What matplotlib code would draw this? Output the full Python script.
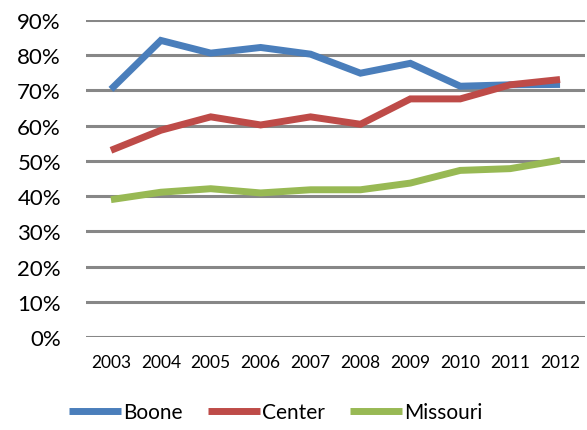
import matplotlib
matplotlib.use("Agg")
import matplotlib.pyplot as plt
from matplotlib.ticker import FuncFormatter

years = ["2003", "2004", "2005", "2006", "2007", "2008", "2009", "2010", "2011", "2012"]
boone = [70.3, 84.2, 80.6, 82.2, 80.3, 74.9, 77.7, 71.2, 71.6, 71.7]
center = [53.0, 58.7, 62.5, 60.2, 62.5, 60.4, 67.6, 67.6, 71.6, 73.1]
missouri = [39.0, 41.1, 42.1, 40.9, 41.8, 41.8, 43.7, 47.3, 47.8, 50.2]
series = [("Boone", boone, "#4a7ebb"), ("Center", center, "#be4b48"), ("Missouri", missouri, "#98b954")]

plt.rcParams["font.family"] = ["Lato", "DejaVu Sans"]
fig = plt.figure(figsize=(5.87, 4.31), dpi=100)
ax = fig.add_axes([86 / 587, 93 / 431, 499 / 587, 317 / 431])

x = list(range(len(years)))
for name, vals, col in series:
    ax.plot(x, vals, color=col, lw=5, label=name, solid_capstyle="butt", solid_joinstyle="miter", zorder=3)

ax.set_xlim(-0.5, len(years) - 0.5)
ax.set_ylim(0, 90)
ax.set_yticks(range(0, 91, 10))
ax.yaxis.set_major_formatter(FuncFormatter(lambda v, p: f"{int(v)}%"))
ax.set_xticks(x)
ax.set_xticklabels(years, fontsize=12.5)
ax.tick_params(axis="y", labelsize=16, length=0, pad=18)
ax.tick_params(axis="x", length=0, pad=12)
ax.grid(axis="y", color="#878787", lw=2.2, zorder=1)
for s in ax.spines.values():
    s.set_visible(False)

fig.legend(loc="lower center", bbox_to_anchor=(0.47, -0.025), ncol=3, frameon=False,
           fontsize=15, handlelength=2.5, handletextpad=0.1, columnspacing=1.2)
fig.savefig("out.png", dpi=100)
